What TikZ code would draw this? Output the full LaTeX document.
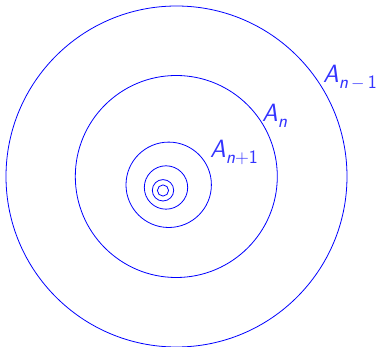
\documentclass[tikz,border=0pt]{standalone}
\begin{document}
\begin{tikzpicture}[x=1pt,y=-1pt,
  ring/.style={draw=blue, line width=0.8pt},
  lab/.style={anchor=base west, inner sep=0pt, text=blue!80!white, font=\fontsize{25}{30}\selectfont\sffamily}]
\useasboundingbox (0,0) rectangle (378,347);
\draw[ring] (176.5,176.5) circle[radius=170.5pt];
\draw[ring] (176.3,176.5) circle[radius=101pt];
\draw[ring] (168.7,184.8) circle[radius=42.7pt];
\draw[ring] (166,187.5) circle[radius=21.7pt];
\draw[ring] (163,190.3) circle[radius=10.7pt];
\draw[ring] (163,190.5) circle[radius=5.6pt];
\node[lab] (a1) at (323,83) {\textit{A}\raisebox{-0.22em}{\fontsize{19}{21}\selectfont\textit{n}\,$-$\,1}};
\node[lab] (a2) at (262,122) {\textit{A}\raisebox{-0.22em}{\fontsize{19}{21}\selectfont\textit{n}}};
\node[lab] (a3) at (210,158) {\textit{A}\raisebox{-0.22em}{\fontsize{19}{21}\selectfont\textit{n}+1}};
\end{tikzpicture}
\end{document}
